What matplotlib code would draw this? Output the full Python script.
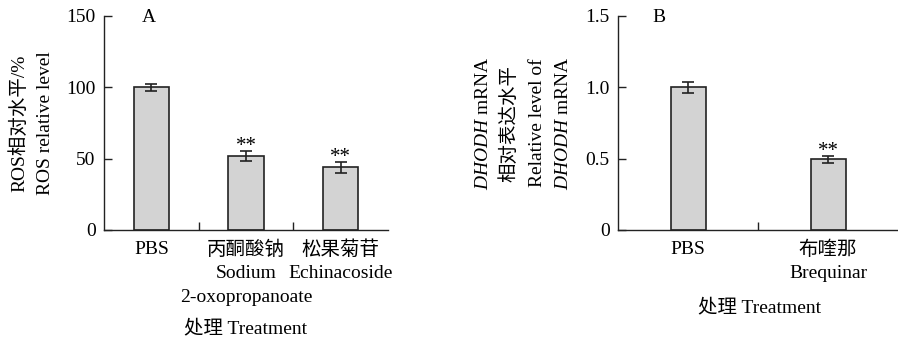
import matplotlib
matplotlib.use("Agg")
import matplotlib.pyplot as plt
from matplotlib.transforms import offset_copy

plt.rcParams['font.family'] = ['Liberation Serif', 'Noto Sans CJK SC']
plt.rcParams['mathtext.fontset'] = 'custom'
plt.rcParams['mathtext.rm'] = 'Liberation Serif'
plt.rcParams['mathtext.it'] = 'Liberation Serif:italic'
plt.rcParams['font.size'] = 14

# Panel A: ROS relative level
labels_a = [["PBS"], ["丙酮酸钠", "Sodium", "2-oxopropanoate"], ["松果菊苷", "Echinacoside"]]
values_a = [100, 52, 44]
errors_a = [2.5, 3.6, 3.8]
stars_a = ["", "**", "**"]

# Panel B: DHODH mRNA relative level
labels_b = [["PBS"], ["布喹那", "Brequinar"]]
values_b = [1.0, 0.495]
errors_b = [0.04, 0.027]
stars_b = ["", "**"]

bar_color = "#d3d3d3"
edge_color = "#222222"

fig = plt.figure(figsize=(8.98, 3.4), dpi=100)
ax_a = fig.add_axes([104 / 898, 1 - 230 / 340, 284 / 898, 214 / 340])
ax_b = fig.add_axes([618 / 898, 1 - 230 / 340, 280 / 898, 214 / 340])


def draw_panel(ax, labels, values, errors, stars, width, ymax, yticks, yticklabels):
    x = list(range(len(values)))
    ax.bar(x, values, width=width, color=bar_color, edgecolor=edge_color, linewidth=1.2, zorder=2)
    ax.errorbar(x, values, yerr=errors, fmt="none", ecolor=edge_color, elinewidth=1.2,
                capsize=4.5, capthick=1.2, zorder=3)
    for xi, v, e, s in zip(x, values, errors, stars):
        if s:
            ax.text(xi, v + e, s, ha="center", va="baseline", fontsize=15)
    ax.set_xlim(-0.5, len(values) - 0.5)
    ax.set_ylim(0, ymax)
    ax.set_yticks(yticks)
    ax.set_yticklabels(yticklabels)
    ax.set_xticks(x)
    ax.set_xticklabels([])
    ax.set_xticks([i + 0.5 for i in range(len(values) - 1)], minor=True)
    ax.tick_params(axis="x", which="major", length=0)
    ax.tick_params(axis="x", which="minor", direction="in", length=6, width=1, color=edge_color)
    ax.tick_params(axis="y", direction="in", length=6, width=1, color=edge_color, pad=6)
    for side in ["top", "right"]:
        ax.spines[side].set_visible(False)
    for side in ["left", "bottom"]:
        ax.spines[side].set_color(edge_color)
        ax.spines[side].set_linewidth(1.0)
    # category labels, one text per line
    base = ax.get_xaxis_transform()
    for xi, lines in zip(x, labels):
        for j, line in enumerate(lines):
            tr = offset_copy(base, fig=fig, x=0, y=-(20 + 23.5 * j), units="dots")
            ax.text(xi, 0, line, transform=tr, ha="center", va="center")


draw_panel(ax_a, labels_a, values_a, errors_a, stars_a, 0.37, 150,
           [0, 50, 100, 150], ["0", "50", "100", "150"])
draw_panel(ax_b, labels_b, values_b, errors_b, stars_b, 0.25, 1.5,
           [0, 0.5, 1.0, 1.5], ["0", "0.5", "1.0", "1.5"])

fig.text(149 / 898, 1 - 18 / 340, "A", ha="center", va="center")
fig.text(659 / 898, 1 - 18 / 340, "B", ha="center", va="center")

yc = 1 - 123 / 340
fig.text(19 / 898, yc, "ROS相对水平/%", rotation=90, ha="center", va="center")
fig.text(46 / 898, yc, "ROS relative level", rotation=90, ha="center", va="center")

fig.text(483 / 898, yc, r"$\mathit{DHODH}$ mRNA", rotation=90, ha="center", va="center")
fig.text(509 / 898, yc, "相对表达水平", rotation=90, ha="center", va="center")
fig.text(537 / 898, yc, "Relative level of", rotation=90, ha="center", va="center")
fig.text(564 / 898, yc, r"$\mathit{DHODH}$ mRNA", rotation=90, ha="center", va="center")

fig.text(246 / 898, 1 - 328 / 340, "处理 Treatment", ha="center", va="center")
fig.text(760 / 898, 1 - 307 / 340, "处理 Treatment", ha="center", va="center")

fig.savefig("out.png", dpi=100)
